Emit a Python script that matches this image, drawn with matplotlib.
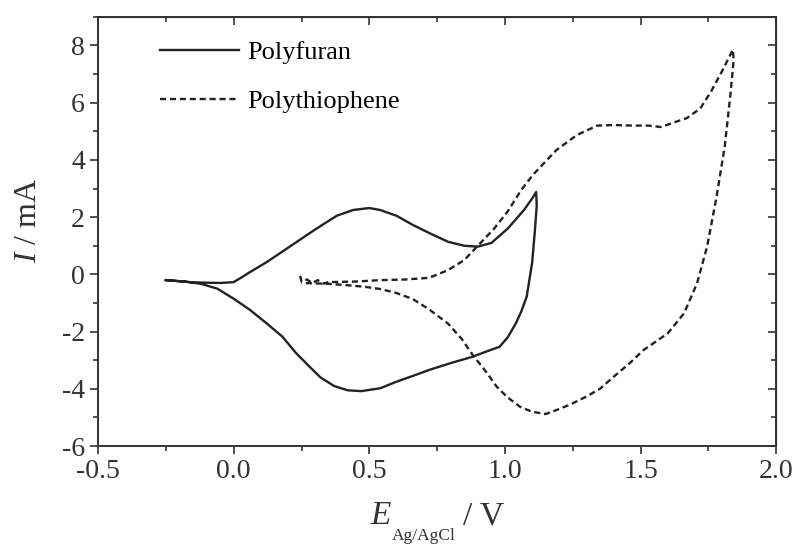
import matplotlib
matplotlib.use('Agg')
import matplotlib.pyplot as plt
import numpy as np

# polyfuran: forward (upper) then reverse (lower) scan
pf_fwd_E = [-0.25, -0.15, -0.05, 0.0, 0.03, 0.06, 0.12, 0.18, 0.23, 0.28, 0.33, 0.38, 0.44, 0.50, 0.54,
            0.60, 0.66, 0.72, 0.79, 0.85, 0.90, 0.95, 1.01, 1.07, 1.10, 1.115]
pf_fwd_I = [-0.2, -0.28, -0.3, -0.27, -0.1, 0.08, 0.42, 0.8, 1.12, 1.44, 1.75, 2.05, 2.25, 2.32, 2.25,
            2.05, 1.73, 1.45, 1.14, 1.0, 0.97, 1.1, 1.6, 2.25, 2.65, 2.88]
pf_rev_E = [1.117, 1.11, 1.10, 1.08, 1.06, 1.04, 1.01, 0.98, 0.93, 0.88, 0.80, 0.72, 0.66, 0.60,
            0.54, 0.47, 0.42, 0.37, 0.32, 0.28, 0.23, 0.18, 0.12, 0.06, 0.0, -0.06, -0.12, -0.18, -0.25]
pf_rev_I = [2.4, 1.5, 0.4, -0.78, -1.3, -1.71, -2.2, -2.53, -2.7, -2.88, -3.1, -3.34, -3.55, -3.75,
            -3.98, -4.08, -4.05, -3.9, -3.6, -3.23, -2.75, -2.18, -1.7, -1.24, -0.85, -0.5, -0.33, -0.25, -0.2]

# polythiophene: forward then reverse scan
pt_fwd_E = [0.245, 0.25, 0.27, 0.29, 0.31, 0.33, 0.35, 0.45, 0.54, 0.63, 0.72, 0.79, 0.85, 0.91,
            0.96, 1.01, 1.06, 1.105, 1.15, 1.19, 1.265, 1.34, 1.40, 1.475, 1.53, 1.575, 1.62,
            1.67, 1.72, 1.76, 1.80, 1.84]
pt_fwd_I = [-0.05, -0.25, -0.18, -0.3, -0.2, -0.32, -0.27, -0.25, -0.2, -0.18, -0.12, 0.15, 0.5, 1.1,
            1.6, 2.2, 2.95, 3.5, 3.95, 4.35, 4.87, 5.2, 5.22, 5.2, 5.2, 5.15, 5.3,
            5.46, 5.8, 6.4, 7.1, 7.85]
pt_rev_E = [1.843, 1.83, 1.81, 1.78, 1.745, 1.708, 1.66, 1.60, 1.51, 1.46, 1.41, 1.35, 1.30, 1.24,
            1.19, 1.15, 1.10, 1.056, 1.01, 0.97, 0.93, 0.88, 0.84, 0.79, 0.72, 0.66, 0.60, 0.54,
            0.48, 0.42, 0.35, 0.25]
pt_rev_I = [7.5, 6.2, 4.47, 2.72, 0.97, -0.31, -1.36, -2.06, -2.65, -3.1, -3.5, -4.0, -4.27, -4.55,
            -4.74, -4.88, -4.8, -4.63, -4.3, -3.93, -3.4, -2.8, -2.25, -1.72, -1.22, -0.86, -0.65, -0.51,
            -0.43, -0.38, -0.33, -0.3]

plt.rcParams['font.family'] = 'Liberation Serif'
plt.rcParams['mathtext.fontset'] = 'custom'
plt.rcParams['mathtext.rm'] = 'Liberation Serif'
plt.rcParams['mathtext.it'] = 'Liberation Serif:italic'

fig = plt.figure(figsize=(7.97, 5.44), dpi=100)
ax = fig.add_axes([0.123, 0.180, 0.851, 0.789])

ax.plot(pf_fwd_E + pf_rev_E, pf_fwd_I + pf_rev_I, color='#222222', lw=1.7, label='Polyfuran')
ax.plot(pt_fwd_E + pt_rev_E, pt_fwd_I + pt_rev_I, color='#222222', lw=1.7,
        linestyle=(0, (2.6, 1.6)), label='Polythiophene')

ax.set_xlim(-0.5, 2.0)
ax.set_ylim(-6, 9)
ax.set_xticks(np.arange(-0.5, 2.01, 0.5))
ax.set_xticks(np.arange(-0.25, 2.0, 0.5), minor=True)
ax.set_yticks(np.arange(-6, 9, 2))
ax.set_yticks(np.arange(-5, 10, 2), minor=True)
ax.set_xticklabels(['-0.5', '0.0', '0.5', '1.0', '1.5', '2.0'])
ax.set_yticklabels(['-6', '-4', '-2', '0', '2', '4', '6', '8'])

ax.tick_params(which='both', direction='out', width=1.2, labelsize=20, colors='#333333')
ax.tick_params(which='major', length=6)
ax.tick_params(which='minor', length=3.5)
for s in ax.spines.values():
    s.set_linewidth(1.4)
    s.set_color('#333333')

# mirrored axes with inward ticks
top = ax.secondary_xaxis('top')
top.set_xticks(np.arange(-0.5, 2.01, 0.5))
top.set_xticks(np.arange(-0.25, 2.0, 0.5), minor=True)
top.tick_params(which='both', direction='in', labeltop=False, width=1.2, colors='#333333')
top.tick_params(which='major', length=6)
top.tick_params(which='minor', length=3.5)
right = ax.secondary_yaxis('right')
right.set_yticks(np.arange(-6, 9, 2))
right.set_yticks(np.arange(-5, 10, 2), minor=True)
right.tick_params(which='both', direction='in', labelright=False, width=1.2, colors='#333333')
right.tick_params(which='major', length=6)
right.tick_params(which='minor', length=3.5)

# x label: big italic E, small lowered subscript
fig.text(381 / 797, 1 - 516 / 544, 'E', fontsize=24, style='italic', color='#333333',
         ha='center', va='center')
fig.text(392 / 797, 1 - 536 / 544, 'Ag/AgCl', fontsize=12.5, color='#333333',
         ha='left', va='center')
fig.text(463 / 797, 1 - 516 / 544, '/ V', fontsize=24, color='#333333',
         ha='left', va='center')

ax.set_ylabel(r'$\mathit{I}$ / mA', fontsize=23, color='#333333')
ax.yaxis.set_label_coords(-0.081, 0.527)

ax.legend(loc='upper left', bbox_to_anchor=(0.072, 0.975), frameon=False, fontsize=19,
          handlelength=3.0, handletextpad=0.3, labelspacing=0.95, borderpad=0)

fig.savefig('out.png', dpi=100)
